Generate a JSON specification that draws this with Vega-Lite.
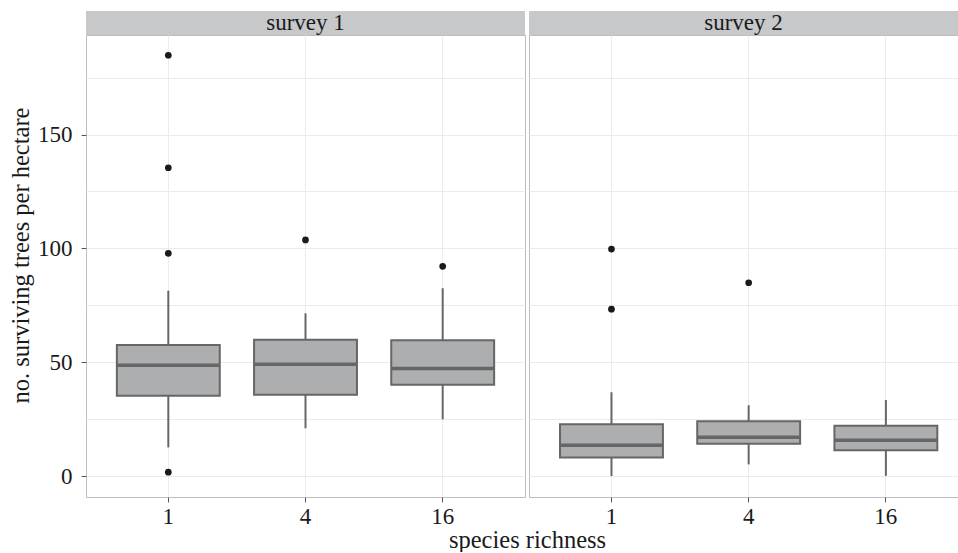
{
  "$schema": "https://vega.github.io/schema/vega-lite/v6.json",
  "padding": {"left": 8, "top": 11, "right": 0, "bottom": 0},
  "background": "white",
  "datasets": {
    "boxes": [
      {"survey": "survey 1", "richness": "1", "lower": 12.6, "q1": 35.3, "median": 48.7, "q3": 57.6, "upper": 81.4},
      {"survey": "survey 1", "richness": "4", "lower": 21.0, "q1": 35.7, "median": 49.1, "q3": 59.9, "upper": 71.5},
      {"survey": "survey 1", "richness": "16", "lower": 24.9, "q1": 40.1, "median": 47.2, "q3": 59.6, "upper": 82.5},
      {"survey": "survey 2", "richness": "1", "lower": 0.0, "q1": 8.2, "median": 13.5, "q3": 22.7, "upper": 36.8},
      {"survey": "survey 2", "richness": "4", "lower": 5.1, "q1": 14.2, "median": 17.0, "q3": 24.1, "upper": 31.1},
      {"survey": "survey 2", "richness": "16", "lower": 0.1, "q1": 11.3, "median": 15.7, "q3": 22.1, "upper": 33.4}
    ],
    "outliers": [
      {"survey": "survey 1", "richness": "1", "value": 184.8},
      {"survey": "survey 1", "richness": "1", "value": 135.4},
      {"survey": "survey 1", "richness": "1", "value": 97.8},
      {"survey": "survey 1", "richness": "1", "value": 1.7},
      {"survey": "survey 1", "richness": "4", "value": 103.7},
      {"survey": "survey 1", "richness": "16", "value": 92.1},
      {"survey": "survey 2", "richness": "1", "value": 99.7},
      {"survey": "survey 2", "richness": "1", "value": 73.3},
      {"survey": "survey 2", "richness": "4", "value": 84.9}
    ],
    "strips": [{"survey": "survey 1"}, {"survey": "survey 2"}]
  },
  "columns": 2,
  "spacing": {"row": 0, "column": 4},
  "bounds": "flush",
  "concat": [
    {
      "width": 439, "height": 24,
      "data": {"name": "strips"},
      "transform": [{"filter": "datum.survey === 'survey 1'"}],
      "view": {"fill": "#c7c8ca", "stroke": null},
      "mark": {"type": "text", "font": "Liberation Serif", "fontSize": 23, "color": "#1a1a1a", "baseline": "middle"},
      "encoding": {"text": {"field": "survey"}}
    },
    {
      "width": 429, "height": 24,
      "data": {"name": "strips"},
      "transform": [{"filter": "datum.survey === 'survey 2'"}],
      "view": {"fill": "#c7c8ca", "stroke": null},
      "mark": {"type": "text", "font": "Liberation Serif", "fontSize": 23, "color": "#1a1a1a", "baseline": "middle"},
      "encoding": {"text": {"field": "survey"}}
    },
    {
      "width": 439, "height": 462,
      "encoding": {
        "x": {
          "field": "richness", "type": "nominal", "sort": ["1", "4", "16"],
          "scale": {"type": "band", "domain": ["1", "4", "16"], "paddingInner": 0.25, "paddingOuter": 0.225},
          "axis": {
            "title": "species richness", "titleX": 441, "titleAlign": "center", "titleFontSize": 24.5, "titlePadding": 0,
            "labelFontSize": 23, "labelAngle": 0, "labelPadding": 3, "tickSize": 5, "tickColor": "#555555",
            "domain": false, "grid": true, "gridColor": "#ebebeb", "bandPosition": 0.5
          }
        }
      },
      "layer": [
        {
          "data": {"name": "boxes"},
          "transform": [{"filter": "datum.survey === 'survey 1'"}],
          "mark": {"type": "rule", "color": "#666666", "strokeWidth": 2},
          "encoding": {
            "y": {
              "field": "lower", "type": "quantitative",
              "scale": {"domain": [-9.2, 193.7], "nice": false, "zero": false},
              "axis": {
                "values": [0, 25, 50, 75, 100, 125, 150, 175],
                "labelExpr": "datum.value % 50 === 0 ? datum.label : ''",
                "tickColor": {"condition": {"test": "datum.value % 50 === 0", "value": "#555555"}, "value": "transparent"},
                "tickSize": 5, "labelPadding": 9, "domain": false, "grid": true, "gridColor": "#ebebeb",
                "title": "no. surviving trees per hectare", "titlePadding": 4, "titleY": 220,
                "labelFontSize": 23, "titleFontSize": 24.5
              }
            },
            "y2": {"field": "upper"}
          }
        },
        {
          "data": {"name": "boxes"},
          "transform": [{"filter": "datum.survey === 'survey 1'"}],
          "mark": {"type": "bar", "fill": "#adaeb0", "stroke": "#666666", "strokeWidth": 2},
          "encoding": {
            "y": {"field": "q1", "type": "quantitative"},
            "y2": {"field": "q3"}
          }
        },
        {
          "data": {"name": "boxes"},
          "transform": [{"filter": "datum.survey === 'survey 1'"}],
          "mark": {"type": "tick", "color": "#666666", "thickness": 3.5, "size": 103, "opacity": 1},
          "encoding": {
            "y": {"field": "median", "type": "quantitative"}
          }
        },
        {
          "data": {"name": "outliers"},
          "transform": [{"filter": "datum.survey === 'survey 1'"}],
          "mark": {"type": "point", "filled": true, "color": "#1a1a1a", "size": 45, "opacity": 1},
          "encoding": {
            "y": {"field": "value", "type": "quantitative"}
          }
        }
      ]
    },
    {
      "width": 429, "height": 462,
      "encoding": {
        "x": {
          "field": "richness", "type": "nominal", "sort": ["1", "4", "16"],
          "scale": {"type": "band", "domain": ["1", "4", "16"], "paddingInner": 0.25, "paddingOuter": 0.1884, "align": 0.6},
          "axis": {
            "title": null,
            "labelFontSize": 23, "labelAngle": 0, "labelPadding": 3, "tickSize": 5, "tickColor": "#555555",
            "domain": false, "grid": true, "gridColor": "#ebebeb", "bandPosition": 0.5
          }
        }
      },
      "layer": [
        {
          "data": {"name": "boxes"},
          "transform": [{"filter": "datum.survey === 'survey 2'"}],
          "mark": {"type": "rule", "color": "#666666", "strokeWidth": 2},
          "encoding": {
            "y": {
              "field": "lower", "type": "quantitative",
              "scale": {"domain": [-9.2, 193.7], "nice": false, "zero": false},
              "axis": {
                "values": [0, 25, 50, 75, 100, 125, 150, 175],
                "labels": false, "ticks": false, "domain": false, "grid": true, "gridColor": "#ebebeb", "title": null
              }
            },
            "y2": {"field": "upper"}
          }
        },
        {
          "data": {"name": "boxes"},
          "transform": [{"filter": "datum.survey === 'survey 2'"}],
          "mark": {"type": "bar", "fill": "#adaeb0", "stroke": "#666666", "strokeWidth": 2},
          "encoding": {
            "y": {"field": "q1", "type": "quantitative"},
            "y2": {"field": "q3"}
          }
        },
        {
          "data": {"name": "boxes"},
          "transform": [{"filter": "datum.survey === 'survey 2'"}],
          "mark": {"type": "tick", "color": "#666666", "thickness": 3.5, "size": 103, "opacity": 1},
          "encoding": {
            "y": {"field": "median", "type": "quantitative"}
          }
        },
        {
          "data": {"name": "outliers"},
          "transform": [{"filter": "datum.survey === 'survey 2'"}],
          "mark": {"type": "point", "filled": true, "color": "#1a1a1a", "size": 45, "opacity": 1},
          "encoding": {
            "y": {"field": "value", "type": "quantitative"}
          }
        }
      ]
    }
  ],
  "config": {
    "view": {"stroke": "#bdbdbd", "strokeWidth": 1},
    "font": "Liberation Serif",
    "axis": {
      "labelFont": "Liberation Serif", "titleFont": "Liberation Serif", "titleFontWeight": "normal",
      "labelColor": "#1a1a1a", "titleColor": "#1a1a1a"
    }
  }
}
